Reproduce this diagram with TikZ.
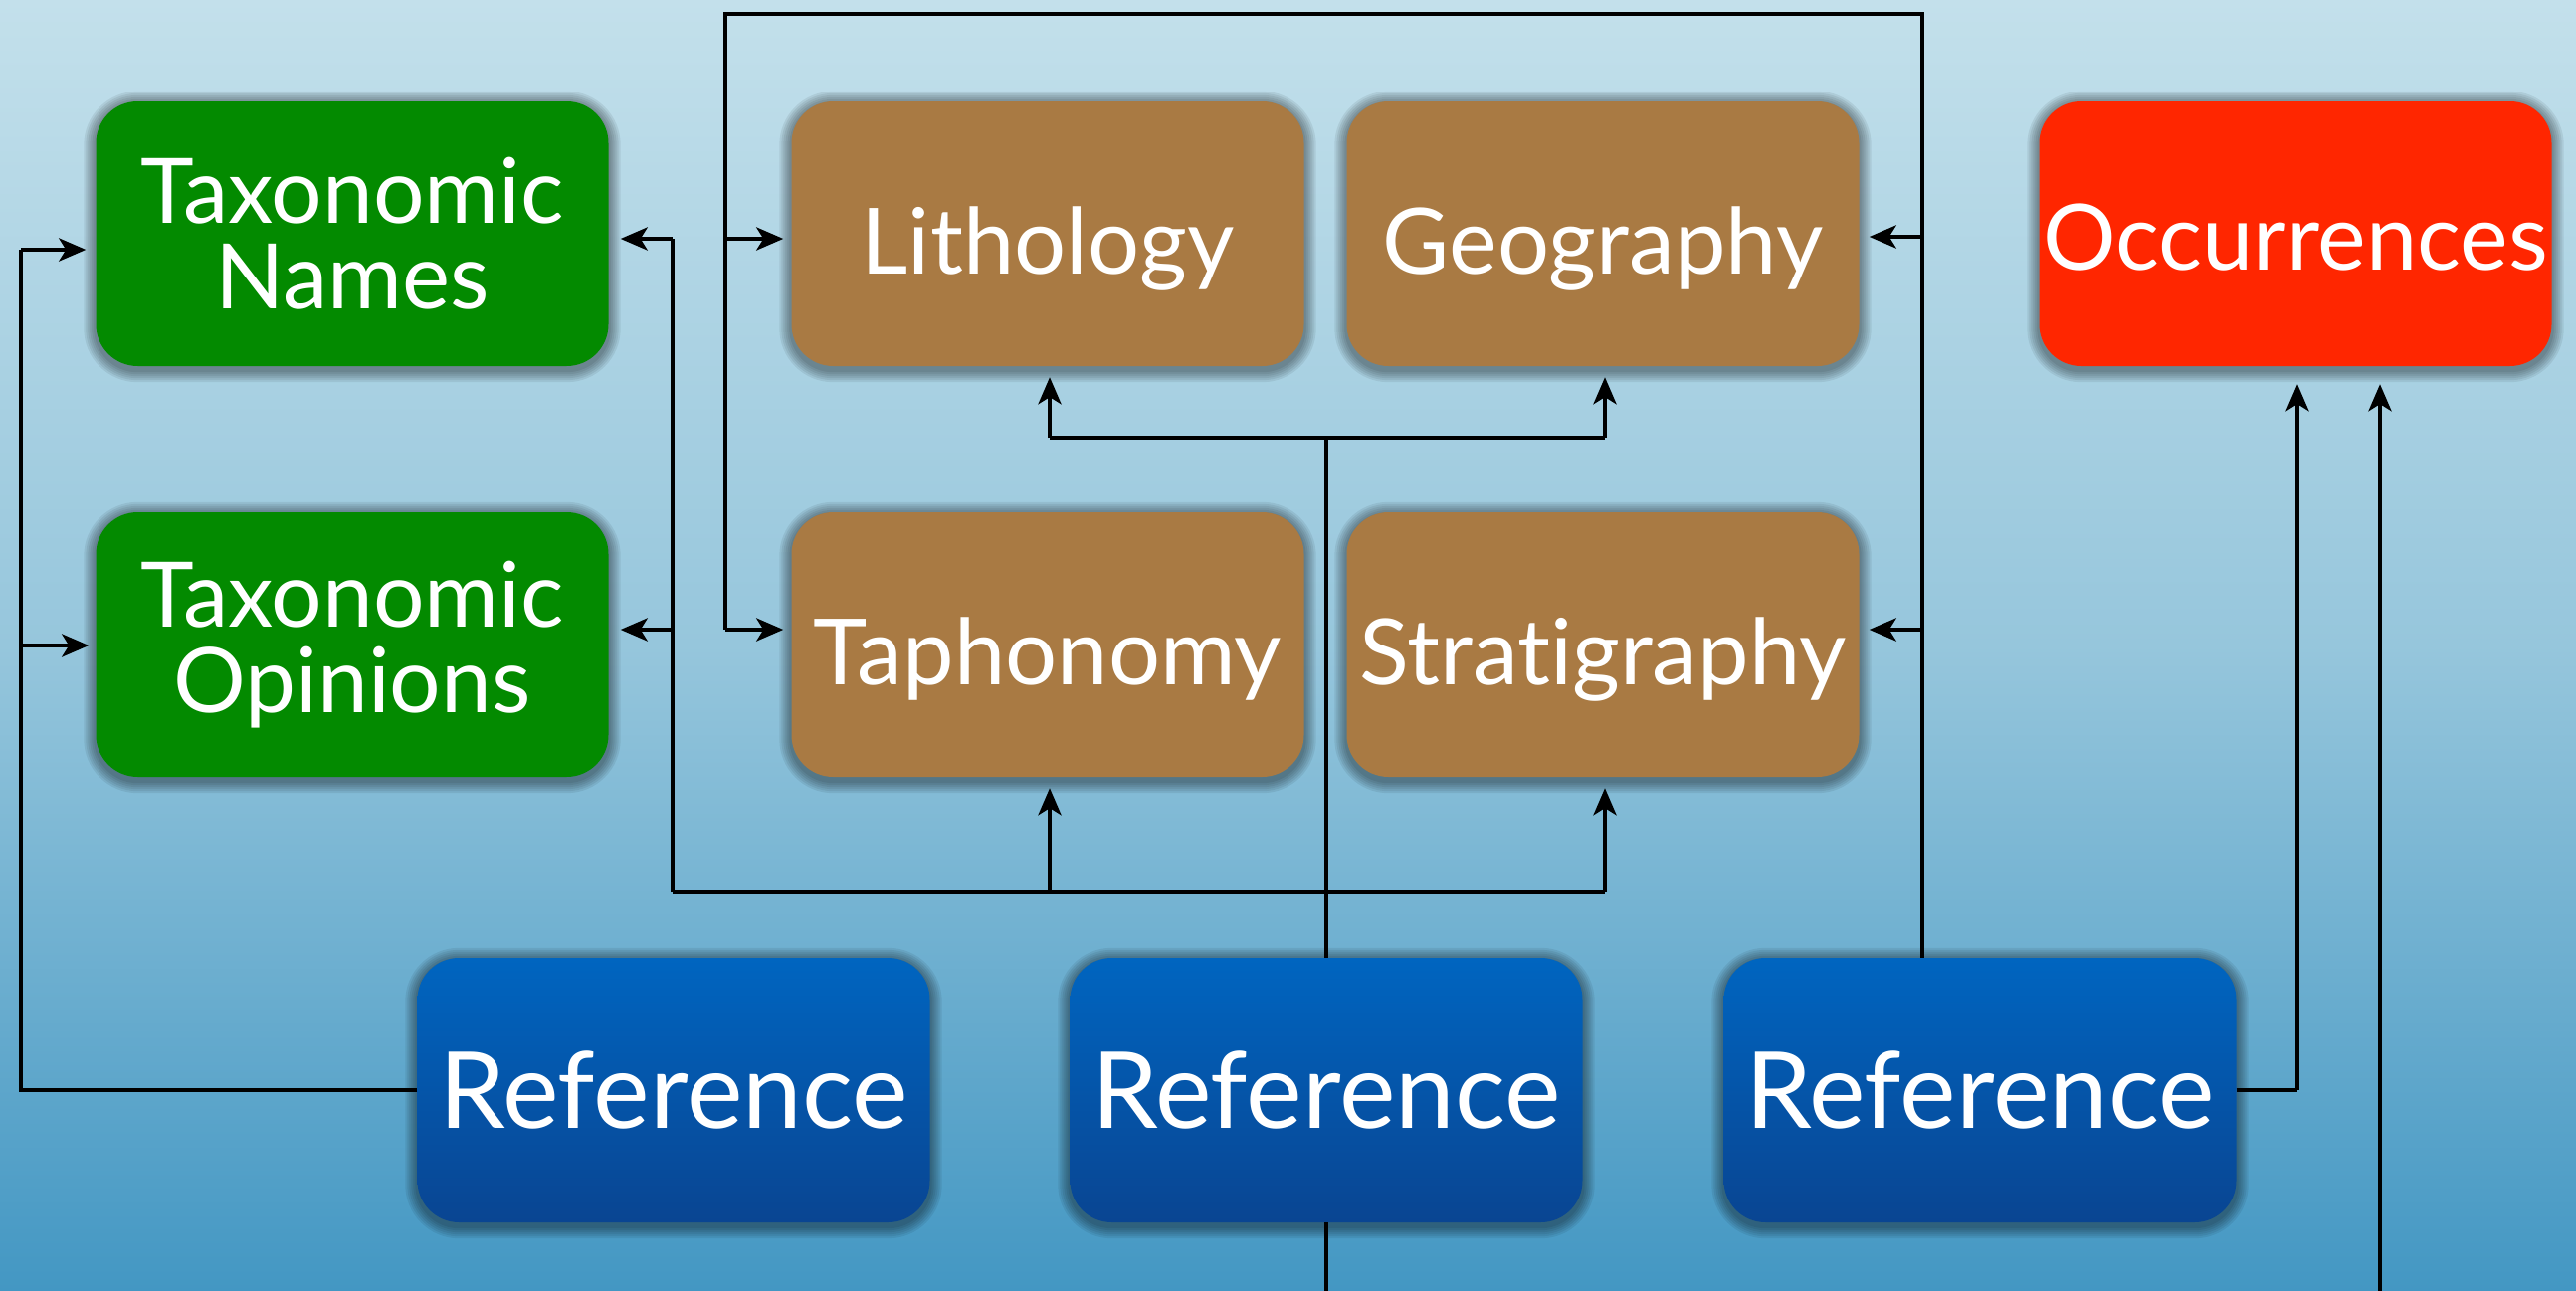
\documentclass[tikz,border=0pt]{standalone}
\usepackage{fontspec}
\setmainfont{Lato}[Ligatures=NoCommon]
\usetikzlibrary{arrows.meta,calc}
\definecolor{bgtop}{RGB}{195,224,235}
\definecolor{bgmid}{RGB}{150,198,220}
\definecolor{bgbot}{RGB}{67,151,195}
\definecolor{boxgreen}{RGB}{3,138,0}
\definecolor{boxbrown}{RGB}{169,122,67}
\definecolor{boxred}{RGB}{255,38,0}
\definecolor{reftop}{RGB}{0,101,192}
\definecolor{refbot}{RGB}{9,69,146}
\pgfdeclarelayer{back}
\pgfdeclarelayer{shadow}
\pgfsetlayers{back,shadow,main}
\begin{document}
\begin{tikzpicture}[x=1pt,y=-1pt,
  box/.style={rounded corners=42pt, minimum width=515pt, minimum height=266pt,
    text=white, align=center, inner sep=0pt},
  greenbox/.style={box, fill=boxgreen, font=\fontsize{91}{86}\selectfont},
  brownbox/.style={box, fill=boxbrown, font=\fontsize{92}{92}\selectfont, text height=100pt, text depth=20pt},
  redbox/.style={box, fill=boxred, font=\fontsize{92}{92}\selectfont, text height=92pt, text depth=20pt},
  refbox/.style={box, top color=reftop, bottom color=refbot, font=\fontsize{107}{107}\selectfont, text height=98pt, text depth=22pt},
  shadowring/.style={fill=black, opacity=0.07},
  conn/.style={line width=4.4pt, black},
  arr/.style={conn, -{Stealth[length=27pt,width=23pt,inset=7pt]}}
]
\useasboundingbox (0,0) rectangle (2589,1298);
\begin{pgfonlayer}{back}
\shade[top color=bgtop, bottom color=bgbot, middle color=bgmid] (0,0) rectangle (2589,1298);
\end{pgfonlayer}

% nodes
\node[greenbox] (tn) at (354,235) {Taxonomic\\Names};
\node[greenbox] (to) at (354,648) {Taxonomic\\Opinions};
\node[brownbox] (lith) at (1053,235) {Lithology};
\node[brownbox] (geo) at (1611,235) {Geography};
\node[brownbox] (taph) at (1053,648) {Taphonomy};
\node[brownbox] (strat) at (1611,648) {Stratigraphy};
\node[redbox] (occ) at (2307,235) {Occurrences};
\node[refbox] (ref1) at (677,1096) {Reference};
\node[refbox] (ref2) at (1333,1096) {Reference};
\node[refbox] (ref3) at (1990,1096) {Reference};

% soft drop shadows
\begin{pgfonlayer}{shadow}
\foreach \n in {tn,to,lith,geo,taph,strat,occ,ref1,ref2,ref3}{
  \foreach \s/\r in {2/44,4/46,6/48,8/50,10/52,12/54}{
    \fill[shadowring, rounded corners=\r pt]
      ([shift={(-\s pt,\s pt-2pt)}]\n.north west) rectangle ([shift={(\s pt,-\s pt-4pt)}]\n.south east);
  }
}
\end{pgfonlayer}

% coordinates
\coordinate (lb) at (21,1096);
\coordinate (lt) at (21,251);
\coordinate (lm) at (21,649);
\coordinate (c1) at (1333,440);
\coordinate (c1l) at (1055,440);
\coordinate (c1r) at (1613,440);
\coordinate (c2l) at (676,897);
\coordinate (c2a) at (1055,897);
\coordinate (c2r) at (1613,897);
\coordinate (c2t) at (676,240);
\coordinate (c2o) at (676,633);
\coordinate (r3t) at (1932,14);
\coordinate (l2t) at (729,14);
\coordinate (ra) at (729,240);
\coordinate (rb) at (729,633);
\coordinate (ga) at (1932,238);
\coordinate (gb) at (1932,633);
\coordinate (oa) at (2309,1096);
\coordinate (ob) at (2392,1298);
\coordinate (bb) at (1333,1298);

% left loop from ref1
\draw[conn] (ref1.west) -- (lb) -- (lt);
\draw[arr, shorten >=10pt] (lt) -- (tn.west |- lt);
\draw[arr, shorten >=7pt] (lm) -- (to.west |- lm);

% ref2 to lithology / geography
\draw[conn] (ref2.north) -- (c1);
\draw[conn] (c1l) -- (c1r);
\draw[arr, shorten >=11pt] (c1l) -- (c1l |- lith.south);
\draw[arr, shorten >=11pt] (c1r) -- (c1r |- geo.south);
\draw[conn] (ref2.south) -- (bb);

% lower bus to taphonomy / stratigraphy / taxonomic boxes
\draw[conn] (c2l) -- (c2r);
\draw[arr, shorten >=11pt] (c2a) -- (c2a |- taph.south);
\draw[arr, shorten >=11pt] (c2r) -- (c2r |- strat.south);
\draw[conn] (c2l) -- (c2t);
\draw[arr, shorten >=12pt] (c2t) -- (tn.east |- c2t);
\draw[arr, shorten >=12pt] (c2o) -- (to.east |- c2o);

% top loop from ref3
\draw[conn] (r3t |- ref3.north) -- (r3t) -- (l2t) -- (rb);
\draw[arr, shorten >=8pt] (ra) -- (lith.west |- ra);
\draw[arr, shorten >=8pt] (rb) -- (taph.west |- rb);
\draw[arr, shorten >=10pt] (ga) -- (geo.east |- ga);
\draw[arr, shorten >=10pt] (gb) -- (strat.east |- gb);

% occurrences
\draw[conn] (ref3.east) -- (oa);
\draw[arr, shorten >=18pt] (oa) -- (oa |- occ.south);
\draw[arr, shorten >=18pt] (ob) -- (ob |- occ.south);
\end{tikzpicture}
\end{document}
